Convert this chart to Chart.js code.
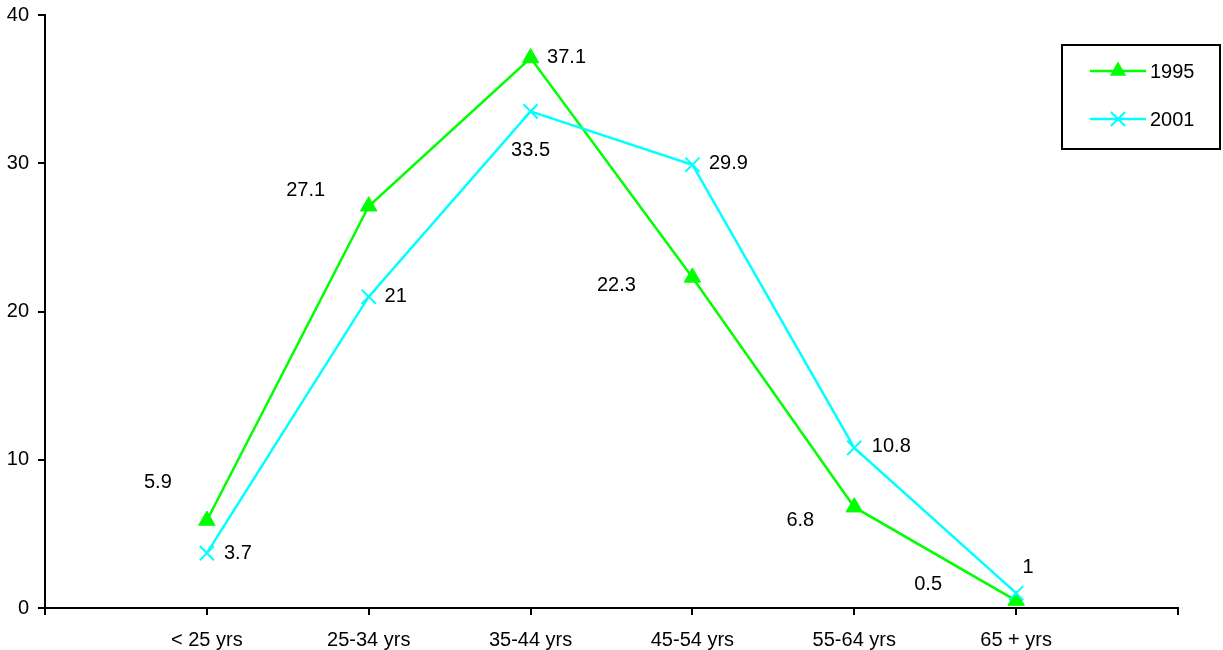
<!DOCTYPE html>
<html>
<head>
<meta charset="utf-8">
<script src="https://cdn.jsdelivr.net/npm/chart.js@4/dist/chart.umd.min.js"></script>
<style>
  html, body { margin: 0; padding: 0; background: #fff; }
  canvas { display: block; }
</style>
</head>
<body>
<canvas id="chart" width="1223" height="650"></canvas>
<script>
// Age groups and share per survey year
const categories = ['< 25 yrs', '25-34 yrs', '35-44 yrs', '45-54 yrs', '55-64 yrs', '65 + yrs'];
const yearLabels = ['1995', '2001'];
const values1995 = [5.9, 27.1, 37.1, 22.3, 6.8, 0.5];
const values2001 = [3.7, 21, 33.5, 29.9, 10.8, 1];
const yTicks = [0, 10, 20, 30, 40];

const FONT = 'Liberation Sans, Arial, Helvetica, sans-serif';
const GREEN = '#00ff00';
const CYAN = '#00ffff';

// categories sit on whole numbers 1..n of a linear axis that runs 0..n+1
const toPoints = vals => vals.map((v, i) => ({ x: i + 1, y: v }));

function drawMarker(ctx, style, x, y, r, color) {
  ctx.save();
  ctx.fillStyle = color;
  ctx.strokeStyle = color;
  ctx.lineWidth = 2;
  ctx.beginPath();
  if (style === 'triangle') {
    let a = 0;
    ctx.moveTo(x + Math.sin(a) * r, y - Math.cos(a) * r);
    a += 2 * Math.PI / 3;
    ctx.lineTo(x + Math.sin(a) * r, y - Math.cos(a) * r);
    a += 2 * Math.PI / 3;
    ctx.lineTo(x + Math.sin(a) * r, y - Math.cos(a) * r);
    ctx.closePath();
    ctx.fill();
  } else {
    const d = Math.cos(Math.PI / 4) * r;
    ctx.moveTo(x - d, y - d); ctx.lineTo(x + d, y + d);
    ctx.moveTo(x - d, y + d); ctx.lineTo(x + d, y - d);
    ctx.stroke();
  }
  ctx.restore();
}

// value labels placed beside each point
const valueLabels = {
  id: 'valueLabels',
  afterDatasetsDraw(chart, args, opts) {
    const ctx = chart.ctx;
    ctx.save();
    ctx.font = '20px ' + FONT;
    ctx.fillStyle = '#000';
    ctx.textAlign = 'center';
    ctx.textBaseline = 'middle';
    chart.data.datasets.forEach((ds, di) => {
      const meta = chart.getDatasetMeta(di);
      const offs = opts.offsets[di];
      meta.data.forEach((pt, i) => {
        const [dx, dy] = offs[i];
        ctx.fillText(String(ds.data[i].y), pt.x + dx, pt.y + dy);
      });
    });
    ctx.restore();
  }
};

// boxed legend at the top right
const boxLegend = {
  id: 'boxLegend',
  afterDraw(chart, args, opts) {
    const ctx = chart.ctx;
    const b = opts.box;
    ctx.save();
    ctx.fillStyle = '#fff';
    ctx.fillRect(b.left, b.top, b.right - b.left, b.bottom - b.top);
    ctx.strokeStyle = '#000';
    ctx.lineWidth = 2;
    ctx.strokeRect(b.left, b.top, b.right - b.left, b.bottom - b.top);
    ctx.font = '20px ' + FONT;
    ctx.textAlign = 'left';
    ctx.textBaseline = 'middle';
    chart.data.datasets.forEach((ds, i) => {
      const y = opts.rows[i];
      ctx.strokeStyle = ds.borderColor;
      ctx.lineWidth = ds.borderWidth;
      ctx.beginPath();
      ctx.moveTo(opts.lineX0, y);
      ctx.lineTo(opts.lineX1, y);
      ctx.stroke();
      drawMarker(ctx, ds.pointStyle, (opts.lineX0 + opts.lineX1) / 2, y, ds.pointRadius, ds.borderColor);
      ctx.fillStyle = '#000';
      ctx.fillText(ds.label, opts.textX, y + 1);
    });
    ctx.restore();
  }
};

new Chart(document.getElementById('chart'), {
  type: 'line',
  data: {
    datasets: [
      {
        label: yearLabels[0],
        data: toPoints(values1995),
        borderColor: GREEN,
        backgroundColor: GREEN,
        borderWidth: 2.5,
        pointStyle: 'triangle',
        pointRadius: 9.5,
        pointBorderWidth: 1,
        tension: 0,
        order: 1
      },
      {
        label: yearLabels[1],
        data: toPoints(values2001),
        borderColor: CYAN,
        backgroundColor: CYAN,
        borderWidth: 2.5,
        pointStyle: 'crossRot',
        pointRadius: 10,
        pointBorderWidth: 2,
        tension: 0,
        order: 0
      }
    ]
  },
  options: {
    responsive: false,
    animation: false,
    clip: false,
    layout: { padding: { top: 15, right: 45, left: 0, bottom: 0 } },
    scales: {
      x: {
        type: 'linear',
        min: 0,
        max: categories.length + 1,
        afterFit: s => { s.height = 42; s.paddingLeft = 0; s.paddingRight = 0; },
        afterBuildTicks: s => {
          s.ticks = [];
          for (let i = 0; i <= categories.length + 1; i++) s.ticks.push({ value: i });
        },
        ticks: {
          autoSkip: false,
          maxRotation: 0,
          padding: 13,
          color: '#000',
          font: { family: FONT, size: 20 },
          callback: v => categories[v - 1] || ''
        },
        grid: { drawOnChartArea: false, drawTicks: true, tickLength: 7, color: '#000', lineWidth: 2 },
        border: { display: true, color: '#000', width: 2 }
      },
      y: {
        min: 0,
        max: 40,
        afterFit: s => { s.width = 45; s.paddingTop = 0; s.paddingBottom = 0; },
        afterBuildTicks: s => { s.ticks = yTicks.map(v => ({ value: v })); },
        ticks: {
          padding: 9,
          color: '#000',
          font: { family: FONT, size: 20 }
        },
        grid: { drawOnChartArea: false, drawTicks: true, tickLength: 7, color: '#000', lineWidth: 2 },
        border: { display: true, color: '#000', width: 2 }
      }
    },
    plugins: {
      legend: { display: false },
      tooltip: { enabled: false },
      valueLabels: {
        offsets: [
          [[-49, -38], [-63, -16], [36, -1], [-76, 8], [-54, 13], [-88, -16]],
          [[31, 0], [27, 0], [0, 39], [36, -1], [37, -1], [12, -26]]
        ]
      },
      boxLegend: {
        box: { left: 1062, top: 45, right: 1220, bottom: 149 },
        rows: [71, 119],
        lineX0: 1090,
        lineX1: 1146,
        textX: 1150
      }
    }
  },
  plugins: [valueLabels, boxLegend]
});
</script>
</body>
</html>
